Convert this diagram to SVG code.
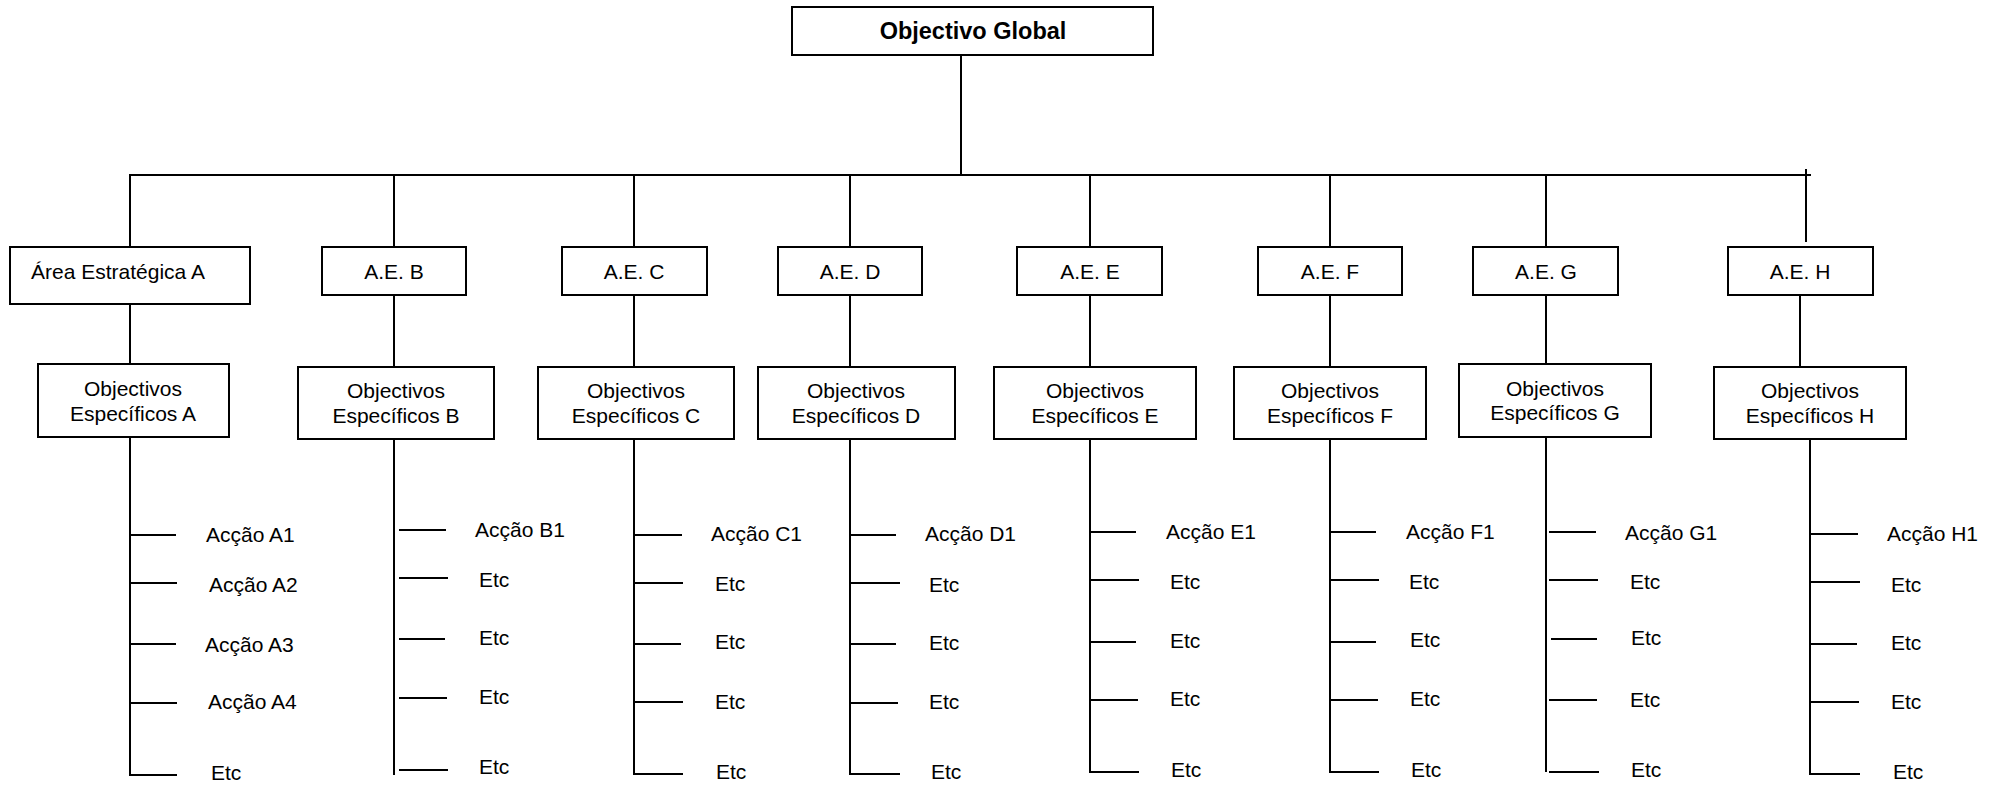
<svg xmlns="http://www.w3.org/2000/svg" width="1999" height="785" viewBox="0 0 1999 785">
<style>
rect{fill:#fff;stroke:#000;stroke-width:2}
line{stroke:#000;stroke-width:2}
text{font-family:"Liberation Sans",Arial,sans-serif;font-size:21px;fill:#000}
.c{text-anchor:middle}
.b{font-weight:bold;font-size:23.5px}
</style>
<rect x="0" y="0" width="1999" height="785" style="fill:#fff;stroke:none"/>
<g id="connectors">
<line x1="961" y1="55" x2="961" y2="175"/>
<line x1="129" y1="175" x2="1811" y2="175"/>
<line x1="1806" y1="169" x2="1806" y2="242"/>
<line x1="130" y1="175" x2="130" y2="247"/>
<line x1="394" y1="175" x2="394" y2="247"/>
<line x1="634" y1="175" x2="634" y2="247"/>
<line x1="850" y1="175" x2="850" y2="247"/>
<line x1="1090" y1="175" x2="1090" y2="247"/>
<line x1="1330" y1="175" x2="1330" y2="247"/>
<line x1="1546" y1="175" x2="1546" y2="247"/>
<line x1="130" y1="295" x2="130" y2="364"/>
<line x1="394" y1="295" x2="394" y2="367"/>
<line x1="634" y1="295" x2="634" y2="367"/>
<line x1="850" y1="295" x2="850" y2="367"/>
<line x1="1090" y1="295" x2="1090" y2="367"/>
<line x1="1330" y1="295" x2="1330" y2="367"/>
<line x1="1546" y1="292" x2="1546" y2="364"/>
<line x1="1800" y1="295" x2="1800" y2="367"/>
<line x1="130" y1="437" x2="130" y2="776"/>
<line x1="394" y1="439" x2="394" y2="775"/>
<line x1="634" y1="439" x2="634" y2="775"/>
<line x1="850" y1="439" x2="850" y2="775"/>
<line x1="1090" y1="439" x2="1090" y2="773"/>
<line x1="1330" y1="439" x2="1330" y2="773"/>
<line x1="1546" y1="437" x2="1546" y2="772"/>
<line x1="1810" y1="439" x2="1810" y2="775"/>
<line x1="129" y1="535" x2="176" y2="535"/><line x1="129" y1="583" x2="177" y2="583"/><line x1="129" y1="644" x2="176" y2="644"/><line x1="129" y1="703" x2="177" y2="703"/><line x1="129" y1="775" x2="177" y2="775"/>
<line x1="399" y1="530" x2="446" y2="530"/><line x1="399" y1="578" x2="448" y2="578"/><line x1="399" y1="639" x2="445" y2="639"/><line x1="399" y1="698" x2="447" y2="698"/><line x1="399" y1="770" x2="448" y2="770"/>
<line x1="634" y1="535" x2="682" y2="535"/><line x1="634" y1="583" x2="683" y2="583"/><line x1="634" y1="644" x2="681" y2="644"/><line x1="634" y1="702" x2="683" y2="702"/><line x1="634" y1="774" x2="683" y2="774"/>
<line x1="850" y1="535" x2="896" y2="535"/><line x1="850" y1="583" x2="900" y2="583"/><line x1="850" y1="644" x2="896" y2="644"/><line x1="850" y1="703" x2="898" y2="703"/><line x1="850" y1="774" x2="900" y2="774"/>
<line x1="1090" y1="532" x2="1136" y2="532"/><line x1="1090" y1="580" x2="1139" y2="580"/><line x1="1090" y1="642" x2="1136" y2="642"/><line x1="1090" y1="700" x2="1138" y2="700"/><line x1="1090" y1="772" x2="1139" y2="772"/>
<line x1="1330" y1="532" x2="1376" y2="532"/><line x1="1330" y1="580" x2="1379" y2="580"/><line x1="1330" y1="642" x2="1376" y2="642"/><line x1="1330" y1="700" x2="1378" y2="700"/><line x1="1330" y1="772" x2="1379" y2="772"/>
<line x1="1549" y1="532" x2="1596" y2="532"/><line x1="1549" y1="580" x2="1598" y2="580"/><line x1="1551" y1="639" x2="1597" y2="639"/><line x1="1549" y1="700" x2="1597" y2="700"/><line x1="1549" y1="772" x2="1599" y2="772"/>
<line x1="1810" y1="534" x2="1858" y2="534"/><line x1="1810" y1="582" x2="1860" y2="582"/><line x1="1810" y1="644" x2="1857" y2="644"/><line x1="1810" y1="702" x2="1859" y2="702"/><line x1="1810" y1="774" x2="1860" y2="774"/>
</g>
<g id="global"><rect x="792" y="7" width="361" height="48"/><text class="c b" x="973" y="39">Objectivo Global</text></g>
<g id="aeA"><rect x="10" y="247" width="240" height="57"/><text x="31" y="279">Área Estratégica A</text></g>
<g id="aeB"><rect x="322" y="247" width="144" height="48"/><text class="c" x="394" y="279">A.E. B</text></g>
<g id="aeC"><rect x="562" y="247" width="145" height="48"/><text class="c" x="634" y="279">A.E. C</text></g>
<g id="aeD"><rect x="778" y="247" width="144" height="48"/><text class="c" x="850" y="279">A.E. D</text></g>
<g id="aeE"><rect x="1017" y="247" width="145" height="48"/><text class="c" x="1090" y="279">A.E. E</text></g>
<g id="aeF"><rect x="1258" y="247" width="144" height="48"/><text class="c" x="1330" y="279">A.E. F</text></g>
<g id="aeG"><rect x="1473" y="247" width="145" height="48"/><text class="c" x="1546" y="279">A.E. G</text></g>
<g id="aeH"><rect x="1728" y="247" width="145" height="48"/><text class="c" x="1800" y="279">A.E. H</text></g>
<g id="objA"><rect x="38" y="364" width="191" height="73"/><text class="c" x="133" y="396">Objectivos</text><text class="c" x="133" y="421">Específicos A</text></g>
<g id="objB"><rect x="298" y="367" width="196" height="72"/><text class="c" x="396" y="398">Objectivos</text><text class="c" x="396" y="423">Específicos B</text></g>
<g id="objC"><rect x="538" y="367" width="196" height="72"/><text class="c" x="636" y="398">Objectivos</text><text class="c" x="636" y="423">Específicos C</text></g>
<g id="objD"><rect x="758" y="367" width="197" height="72"/><text class="c" x="856" y="398">Objectivos</text><text class="c" x="856" y="423">Específicos D</text></g>
<g id="objE"><rect x="994" y="367" width="202" height="72"/><text class="c" x="1095" y="398">Objectivos</text><text class="c" x="1095" y="423">Específicos E</text></g>
<g id="objF"><rect x="1234" y="367" width="192" height="72"/><text class="c" x="1330" y="398">Objectivos</text><text class="c" x="1330" y="423">Específicos F</text></g>
<g id="objG"><rect x="1459" y="364" width="192" height="73"/><text class="c" x="1555" y="396">Objectivos</text><text class="c" x="1555" y="420">Específicos G</text></g>
<g id="objH"><rect x="1714" y="367" width="192" height="72"/><text class="c" x="1810" y="398">Objectivos</text><text class="c" x="1810" y="423">Específicos H</text></g>
<g id="actA"><text x="206" y="542">Acção A1</text><text x="209" y="592">Acção A2</text><text x="205" y="652">Acção A3</text><text x="208" y="709">Acção A4</text><text x="211" y="780">Etc</text></g>
<g id="actB"><text x="475" y="537">Acção B1</text><text x="479" y="587">Etc</text><text x="479" y="645">Etc</text><text x="479" y="704">Etc</text><text x="479" y="774">Etc</text></g>
<g id="actC"><text x="711" y="541">Acção C1</text><text x="715" y="591">Etc</text><text x="715" y="649">Etc</text><text x="715" y="709">Etc</text><text x="716" y="779">Etc</text></g>
<g id="actD"><text x="925" y="541">Acção D1</text><text x="929" y="592">Etc</text><text x="929" y="650">Etc</text><text x="929" y="709">Etc</text><text x="931" y="779">Etc</text></g>
<g id="actE"><text x="1166" y="539">Acção E1</text><text x="1170" y="589">Etc</text><text x="1170" y="648">Etc</text><text x="1170" y="706">Etc</text><text x="1171" y="777">Etc</text></g>
<g id="actF"><text x="1406" y="539">Acção F1</text><text x="1409" y="589">Etc</text><text x="1410" y="647">Etc</text><text x="1410" y="706">Etc</text><text x="1411" y="777">Etc</text></g>
<g id="actG"><text x="1625" y="540">Acção G1</text><text x="1630" y="589">Etc</text><text x="1631" y="645">Etc</text><text x="1630" y="707">Etc</text><text x="1631" y="777">Etc</text></g>
<g id="actH"><text x="1887" y="541">Acção H1</text><text x="1891" y="592">Etc</text><text x="1891" y="650">Etc</text><text x="1891" y="709">Etc</text><text x="1893" y="779">Etc</text></g>
</svg>
